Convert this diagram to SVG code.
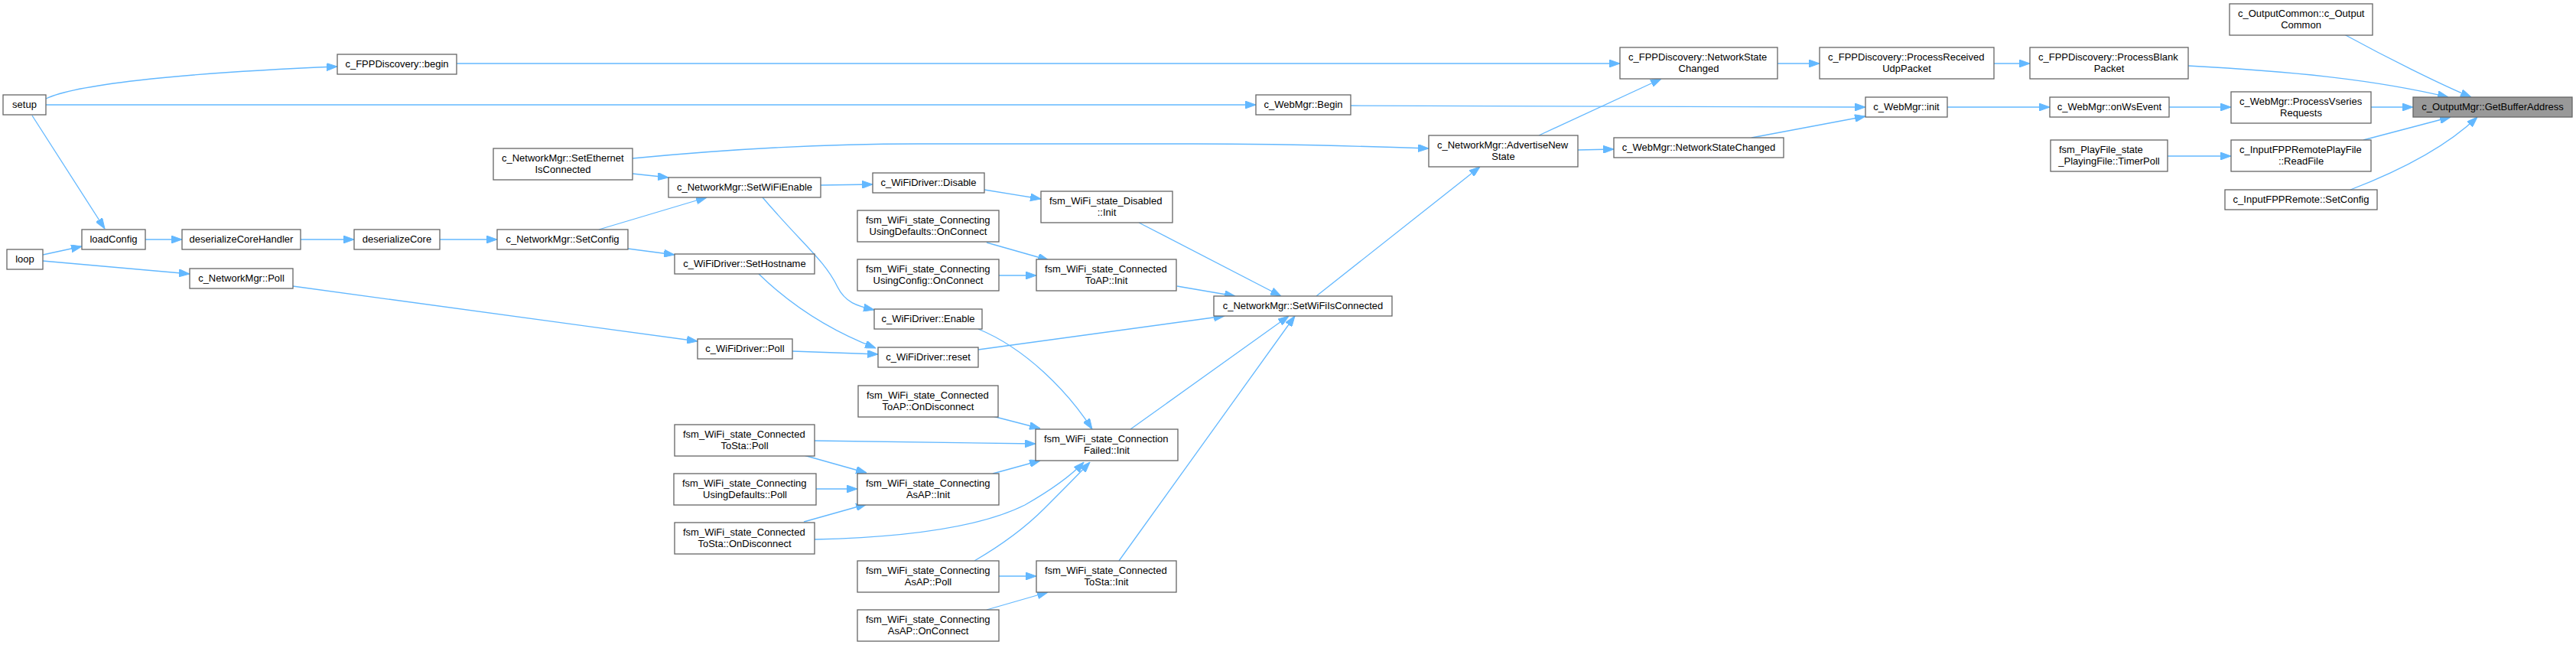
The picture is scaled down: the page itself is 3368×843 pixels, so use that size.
<svg xmlns="http://www.w3.org/2000/svg" width="3368" height="843" viewBox="0 0 3368 843">
<style>
.n rect{fill:#ffffff;stroke:#666666;stroke-width:1.3}
.n.hl rect{fill:#999999}
.n text{font-family:"Liberation Sans",Arial,Helvetica,sans-serif;font-size:13px;fill:#000000}
.c{text-anchor:middle}
.s{text-anchor:start}
#edges path{fill:none;stroke:#63b8ff;stroke-width:1.3;marker-end:url(#ah)}
</style>
<defs>
<marker id="ah" markerWidth="14" markerHeight="10" refX="14" refY="5" orient="auto" markerUnits="userSpaceOnUse">
<path d="M0,0 L14,5 L0,10 z" fill="#63b8ff" stroke="#63b8ff" stroke-width="1"/>
</marker>
</defs>
<rect x="0" y="0" width="3368" height="843" fill="#ffffff"/>
<g id="edges">
<path d="M60,129 C95,112 220,96 441,87"/>
<path d="M60,137 L1642,137"/>
<path d="M42,151 L137,299"/>
<path d="M56,333 L107,322"/>
<path d="M56,341 L248,358"/>
<path d="M190,313 L238,313"/>
<path d="M393,313 L463,313"/>
<path d="M575,313 L650,313"/>
<path d="M783,300 L924,258"/>
<path d="M821,325 L882,333"/>
<path d="M827,227 L874,232"/>
<path d="M827,207 C950,195 1080,188 1200,188 L1560,188 C1650,188 1780,191 1868,194"/>
<path d="M1073,242 L1141,241"/>
<path d="M997,258 C1050,320 1078,340 1095,375 C1105,395 1120,400 1143,405"/>
<path d="M1287,248 L1361,260"/>
<path d="M1290,317 L1371,340"/>
<path d="M1306,360 L1355,360"/>
<path d="M1489,291 L1675,387"/>
<path d="M1539,374 L1615,387"/>
<path d="M992,358 C1030,395 1080,430 1145,455"/>
<path d="M383,374 L912,446"/>
<path d="M1036,459 L1148,463"/>
<path d="M1279,457 L1601,413"/>
<path d="M1279,430 C1340,455 1395,510 1428,561"/>
<path d="M1298,544 L1360,560"/>
<path d="M1065,576 L1354,580"/>
<path d="M1051,595 L1133,618"/>
<path d="M1067,639 L1121,639"/>
<path d="M1051,682 L1133,659"/>
<path d="M1065,705 C1200,702 1290,685 1340,660 C1375,640 1400,622 1417,604"/>
<path d="M1298,619 L1360,602"/>
<path d="M1274,733 C1310,712 1340,690 1365,665 C1390,640 1410,620 1425,604"/>
<path d="M1306,753 L1355,753"/>
<path d="M1290,797 L1370,774"/>
<path d="M1478,561 L1685,413"/>
<path d="M1463,733 L1693,413"/>
<path d="M1721,387 L1935,218"/>
<path d="M2012,177 L2172,103"/>
<path d="M2063,196 L2110,195"/>
<path d="M597,83 L2118,83"/>
<path d="M2324,83 L2379,83"/>
<path d="M2607,83 L2654,83"/>
<path d="M1766,138 L2439,140"/>
<path d="M2290,180 L2439,152"/>
<path d="M2546,140 L2680,140"/>
<path d="M2836,140 L2917,140"/>
<path d="M3100,140 L3155,140"/>
<path d="M3065,45 C3120,75 3190,110 3231,127"/>
<path d="M2861,86 C2990,93 3100,103 3201,127"/>
<path d="M2834,204 L2917,204"/>
<path d="M3090,183 L3204,153"/>
<path d="M3073,248 C3120,230 3190,200 3239,153"/>
</g>
<g id="node-setup" class="n"><rect x="4" y="124" width="56" height="26"/><text class="c" x="32" y="141">setup</text></g>
<g id="node-loop" class="n"><rect x="9" y="326" width="47" height="26"/><text class="c" x="32.5" y="343">loop</text></g>
<g id="node-loadConfig" class="n"><rect x="107" y="300" width="83" height="26"/><text class="c" x="148.5" y="317">loadConfig</text></g>
<g id="node-deserializeCoreHandler" class="n"><rect x="238" y="300" width="155" height="26"/><text class="c" x="315.5" y="317">deserializeCoreHandler</text></g>
<g id="node-deserializeCore" class="n"><rect x="463" y="300" width="112" height="26"/><text class="c" x="519" y="317">deserializeCore</text></g>
<g id="node-SetConfig" class="n"><rect x="650" y="300" width="171" height="26"/><text class="c" x="735.5" y="317">c_NetworkMgr::SetConfig</text></g>
<g id="node-NetPoll" class="n"><rect x="248" y="351" width="135" height="26"/><text class="c" x="315.5" y="368">c_NetworkMgr::Poll</text></g>
<g id="node-FPPbegin" class="n"><rect x="441" y="71" width="156" height="26"/><text class="c" x="519" y="88">c_FPPDiscovery::begin</text></g>
<g id="node-SetEthernet" class="n"><rect x="645" y="194" width="182" height="41"/><text class="s" x="656" y="210.5">c_NetworkMgr::SetEthernet</text><text class="c" x="736" y="225.5">IsConnected</text></g>
<g id="node-SetWiFiEnable" class="n"><rect x="874" y="232" width="199" height="26"/><text class="c" x="973.5" y="249">c_NetworkMgr::SetWiFiEnable</text></g>
<g id="node-WiFiDisable" class="n"><rect x="1141" y="226" width="146" height="26"/><text class="c" x="1214" y="243">c_WiFiDriver::Disable</text></g>
<g id="node-DisabledInit" class="n"><rect x="1361" y="250" width="172" height="41"/><text class="s" x="1372" y="266.5">fsm_WiFi_state_Disabled</text><text class="c" x="1447" y="281.5">::Init</text></g>
<g id="node-UsingDefaultsOnConnect" class="n"><rect x="1121" y="275" width="185" height="41"/><text class="s" x="1132" y="291.5">fsm_WiFi_state_Connecting</text><text class="c" x="1213.5" y="306.5">UsingDefaults::OnConnect</text></g>
<g id="node-SetHostname" class="n"><rect x="882" y="332" width="183" height="26"/><text class="c" x="973.5" y="349">c_WiFiDriver::SetHostname</text></g>
<g id="node-UsingConfigOnConnect" class="n"><rect x="1121" y="339" width="185" height="41"/><text class="s" x="1132" y="355.5">fsm_WiFi_state_Connecting</text><text class="c" x="1213.5" y="370.5">UsingConfig::OnConnect</text></g>
<g id="node-ConnectedToAPInit" class="n"><rect x="1355" y="339" width="183" height="41"/><text class="s" x="1366" y="355.5">fsm_WiFi_state_Connected</text><text class="c" x="1446.5" y="370.5">ToAP::Init</text></g>
<g id="node-WiFiEnable" class="n"><rect x="1143" y="404" width="141" height="26"/><text class="c" x="1213.5" y="421">c_WiFiDriver::Enable</text></g>
<g id="node-SetWiFiIsConnected" class="n"><rect x="1587" y="387" width="233" height="26"/><text class="c" x="1703.5" y="404">c_NetworkMgr::SetWiFiIsConnected</text></g>
<g id="node-WiFiPoll" class="n"><rect x="912" y="443" width="124" height="26"/><text class="c" x="974" y="460">c_WiFiDriver::Poll</text></g>
<g id="node-WiFiReset" class="n"><rect x="1148" y="454" width="131" height="26"/><text class="c" x="1213.5" y="471">c_WiFiDriver::reset</text></g>
<g id="node-ToAPOnDisconnect" class="n"><rect x="1122" y="504" width="183" height="41"/><text class="s" x="1133" y="520.5">fsm_WiFi_state_Connected</text><text class="c" x="1213.5" y="535.5">ToAP::OnDisconnect</text></g>
<g id="node-ToStaPoll" class="n"><rect x="882" y="555" width="183" height="41"/><text class="s" x="893" y="571.5">fsm_WiFi_state_Connected</text><text class="c" x="973.5" y="586.5">ToSta::Poll</text></g>
<g id="node-ConnFailedInit" class="n"><rect x="1354" y="561" width="186" height="41"/><text class="s" x="1365" y="577.5">fsm_WiFi_state_Connection</text><text class="c" x="1447" y="592.5">Failed::Init</text></g>
<g id="node-UsingDefaultsPoll" class="n"><rect x="881" y="619" width="186" height="41"/><text class="s" x="892" y="635.5">fsm_WiFi_state_Connecting</text><text class="c" x="974" y="650.5">UsingDefaults::Poll</text></g>
<g id="node-AsAPInit" class="n"><rect x="1121" y="619" width="185" height="41"/><text class="s" x="1132" y="635.5">fsm_WiFi_state_Connecting</text><text class="c" x="1213.5" y="650.5">AsAP::Init</text></g>
<g id="node-ToStaOnDisconnect" class="n"><rect x="882" y="683" width="183" height="41"/><text class="s" x="893" y="699.5">fsm_WiFi_state_Connected</text><text class="c" x="973.5" y="714.5">ToSta::OnDisconnect</text></g>
<g id="node-AsAPPoll" class="n"><rect x="1121" y="733" width="185" height="41"/><text class="s" x="1132" y="749.5">fsm_WiFi_state_Connecting</text><text class="c" x="1213.5" y="764.5">AsAP::Poll</text></g>
<g id="node-ToStaInit" class="n"><rect x="1355" y="733" width="183" height="41"/><text class="s" x="1366" y="749.5">fsm_WiFi_state_Connected</text><text class="c" x="1446.5" y="764.5">ToSta::Init</text></g>
<g id="node-AsAPOnConnect" class="n"><rect x="1121" y="797" width="185" height="41"/><text class="s" x="1132" y="813.5">fsm_WiFi_state_Connecting</text><text class="c" x="1213.5" y="828.5">AsAP::OnConnect</text></g>
<g id="node-WebBegin" class="n"><rect x="1642" y="124" width="124" height="26"/><text class="c" x="1704" y="141">c_WebMgr::Begin</text></g>
<g id="node-AdvertiseNewState" class="n"><rect x="1868" y="177" width="195" height="41"/><text class="s" x="1879" y="193.5">c_NetworkMgr::AdvertiseNew</text><text class="c" x="1965.5" y="208.5">State</text></g>
<g id="node-WebNetStateChanged" class="n"><rect x="2110" y="180" width="222" height="26"/><text class="c" x="2221" y="197">c_WebMgr::NetworkStateChanged</text></g>
<g id="node-FPPNetStateChanged" class="n"><rect x="2118" y="62" width="206" height="41"/><text class="s" x="2129" y="78.5">c_FPPDiscovery::NetworkState</text><text class="c" x="2221" y="93.5">Changed</text></g>
<g id="node-ProcessReceived" class="n"><rect x="2379" y="62" width="228" height="41"/><text class="s" x="2390" y="78.5">c_FPPDiscovery::ProcessReceived</text><text class="c" x="2493" y="93.5">UdpPacket</text></g>
<g id="node-WebInit" class="n"><rect x="2439" y="127" width="107" height="26"/><text class="c" x="2492.5" y="144">c_WebMgr::init</text></g>
<g id="node-ProcessBlank" class="n"><rect x="2654" y="62" width="207" height="41"/><text class="s" x="2665" y="78.5">c_FPPDiscovery::ProcessBlank</text><text class="c" x="2757.5" y="93.5">Packet</text></g>
<g id="node-onWsEvent" class="n"><rect x="2680" y="127" width="156" height="26"/><text class="c" x="2758" y="144">c_WebMgr::onWsEvent</text></g>
<g id="node-OutputCommon" class="n"><rect x="2915" y="5" width="187" height="41"/><text class="s" x="2926" y="21.5">c_OutputCommon::c_Output</text><text class="c" x="3008.5" y="36.5">Common</text></g>
<g id="node-ProcessVseries" class="n"><rect x="2917" y="120" width="183" height="41"/><text class="s" x="2928" y="136.5">c_WebMgr::ProcessVseries</text><text class="c" x="3008.5" y="151.5">Requests</text></g>
<g id="node-GetBufferAddress" class="n hl"><rect x="3155" y="127" width="208" height="26"/><text class="c" x="3259" y="144">c_OutputMgr::GetBufferAddress</text></g>
<g id="node-TimerPoll" class="n"><rect x="2681" y="183" width="153" height="41"/><text class="s" x="2692" y="199.5">fsm_PlayFile_state</text><text class="c" x="2757.5" y="214.5">_PlayingFile::TimerPoll</text></g>
<g id="node-ReadFile" class="n"><rect x="2917" y="183" width="183" height="41"/><text class="s" x="2928" y="199.5">c_InputFPPRemotePlayFile</text><text class="c" x="3008.5" y="214.5">::ReadFile</text></g>
<g id="node-InputSetConfig" class="n"><rect x="2909" y="248" width="199" height="26"/><text class="c" x="3008.5" y="265">c_InputFPPRemote::SetConfig</text></g>
</svg>
